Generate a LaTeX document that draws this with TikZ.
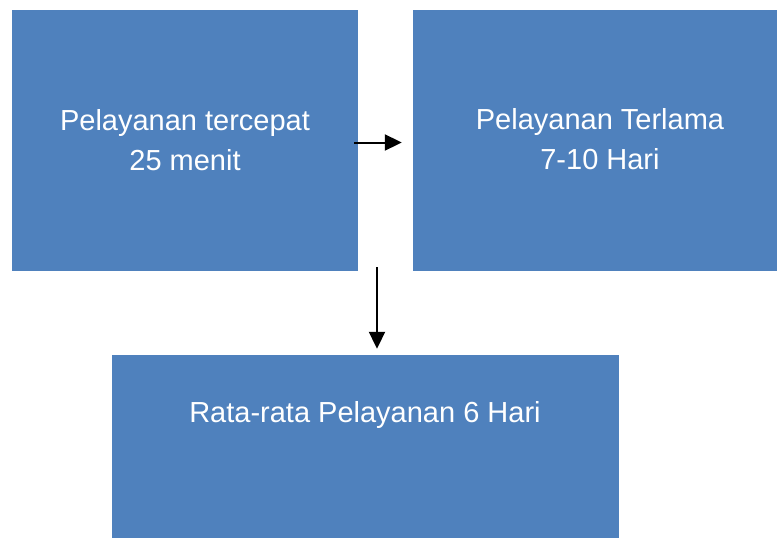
\documentclass[tikz,border=0pt]{standalone}
\usepackage{fontspec}
\setmainfont{Liberation Sans}
\usetikzlibrary{arrows.meta}
\definecolor{boxblue}{HTML}{4F81BD}
\begin{document}
\begin{tikzpicture}[x=1pt, y=-1pt,
	box/.style={fill=boxblue, inner sep=0pt},
	txt/.style={text=white, align=center, font=\fontsize{29}{40}\selectfont, inner sep=0pt},
	flow/.style={line width=2pt, -{Triangle[length=17pt,width=16pt]}}]
	\useasboundingbox (0,0) rectangle (777,538);

	% Fastest
	\node[box, minimum width=346pt, minimum height=261pt] (fast) at (185,140.5) {};
	\node[txt] (fasttxt) at (185,140) {Pelayanan tercepat\\25 menit};

	% Longest
	\node[box, minimum width=364pt, minimum height=261pt] (slow) at (595,140.5) {};
	\node[txt] (slowtxt) at (600,139) {Pelayanan Terlama\\7-10 Hari};

	% Average
	\node[box, minimum width=507pt, minimum height=183pt] (avg) at (365,446.5) {};
	\node[txt] (avgtxt) at (365,415) {Rata-rata Pelayanan 6 Hari};

	% arrows
	\draw[flow] ([xshift=-4pt,yshift=-2pt]fast.east) -- ([xshift=-11pt,yshift=-2pt]slow.west);
	\coordinate (split) at (377,267);
	\draw[flow] (split) -- ([yshift=6pt]avg.north -| split);
\end{tikzpicture}
\end{document}
